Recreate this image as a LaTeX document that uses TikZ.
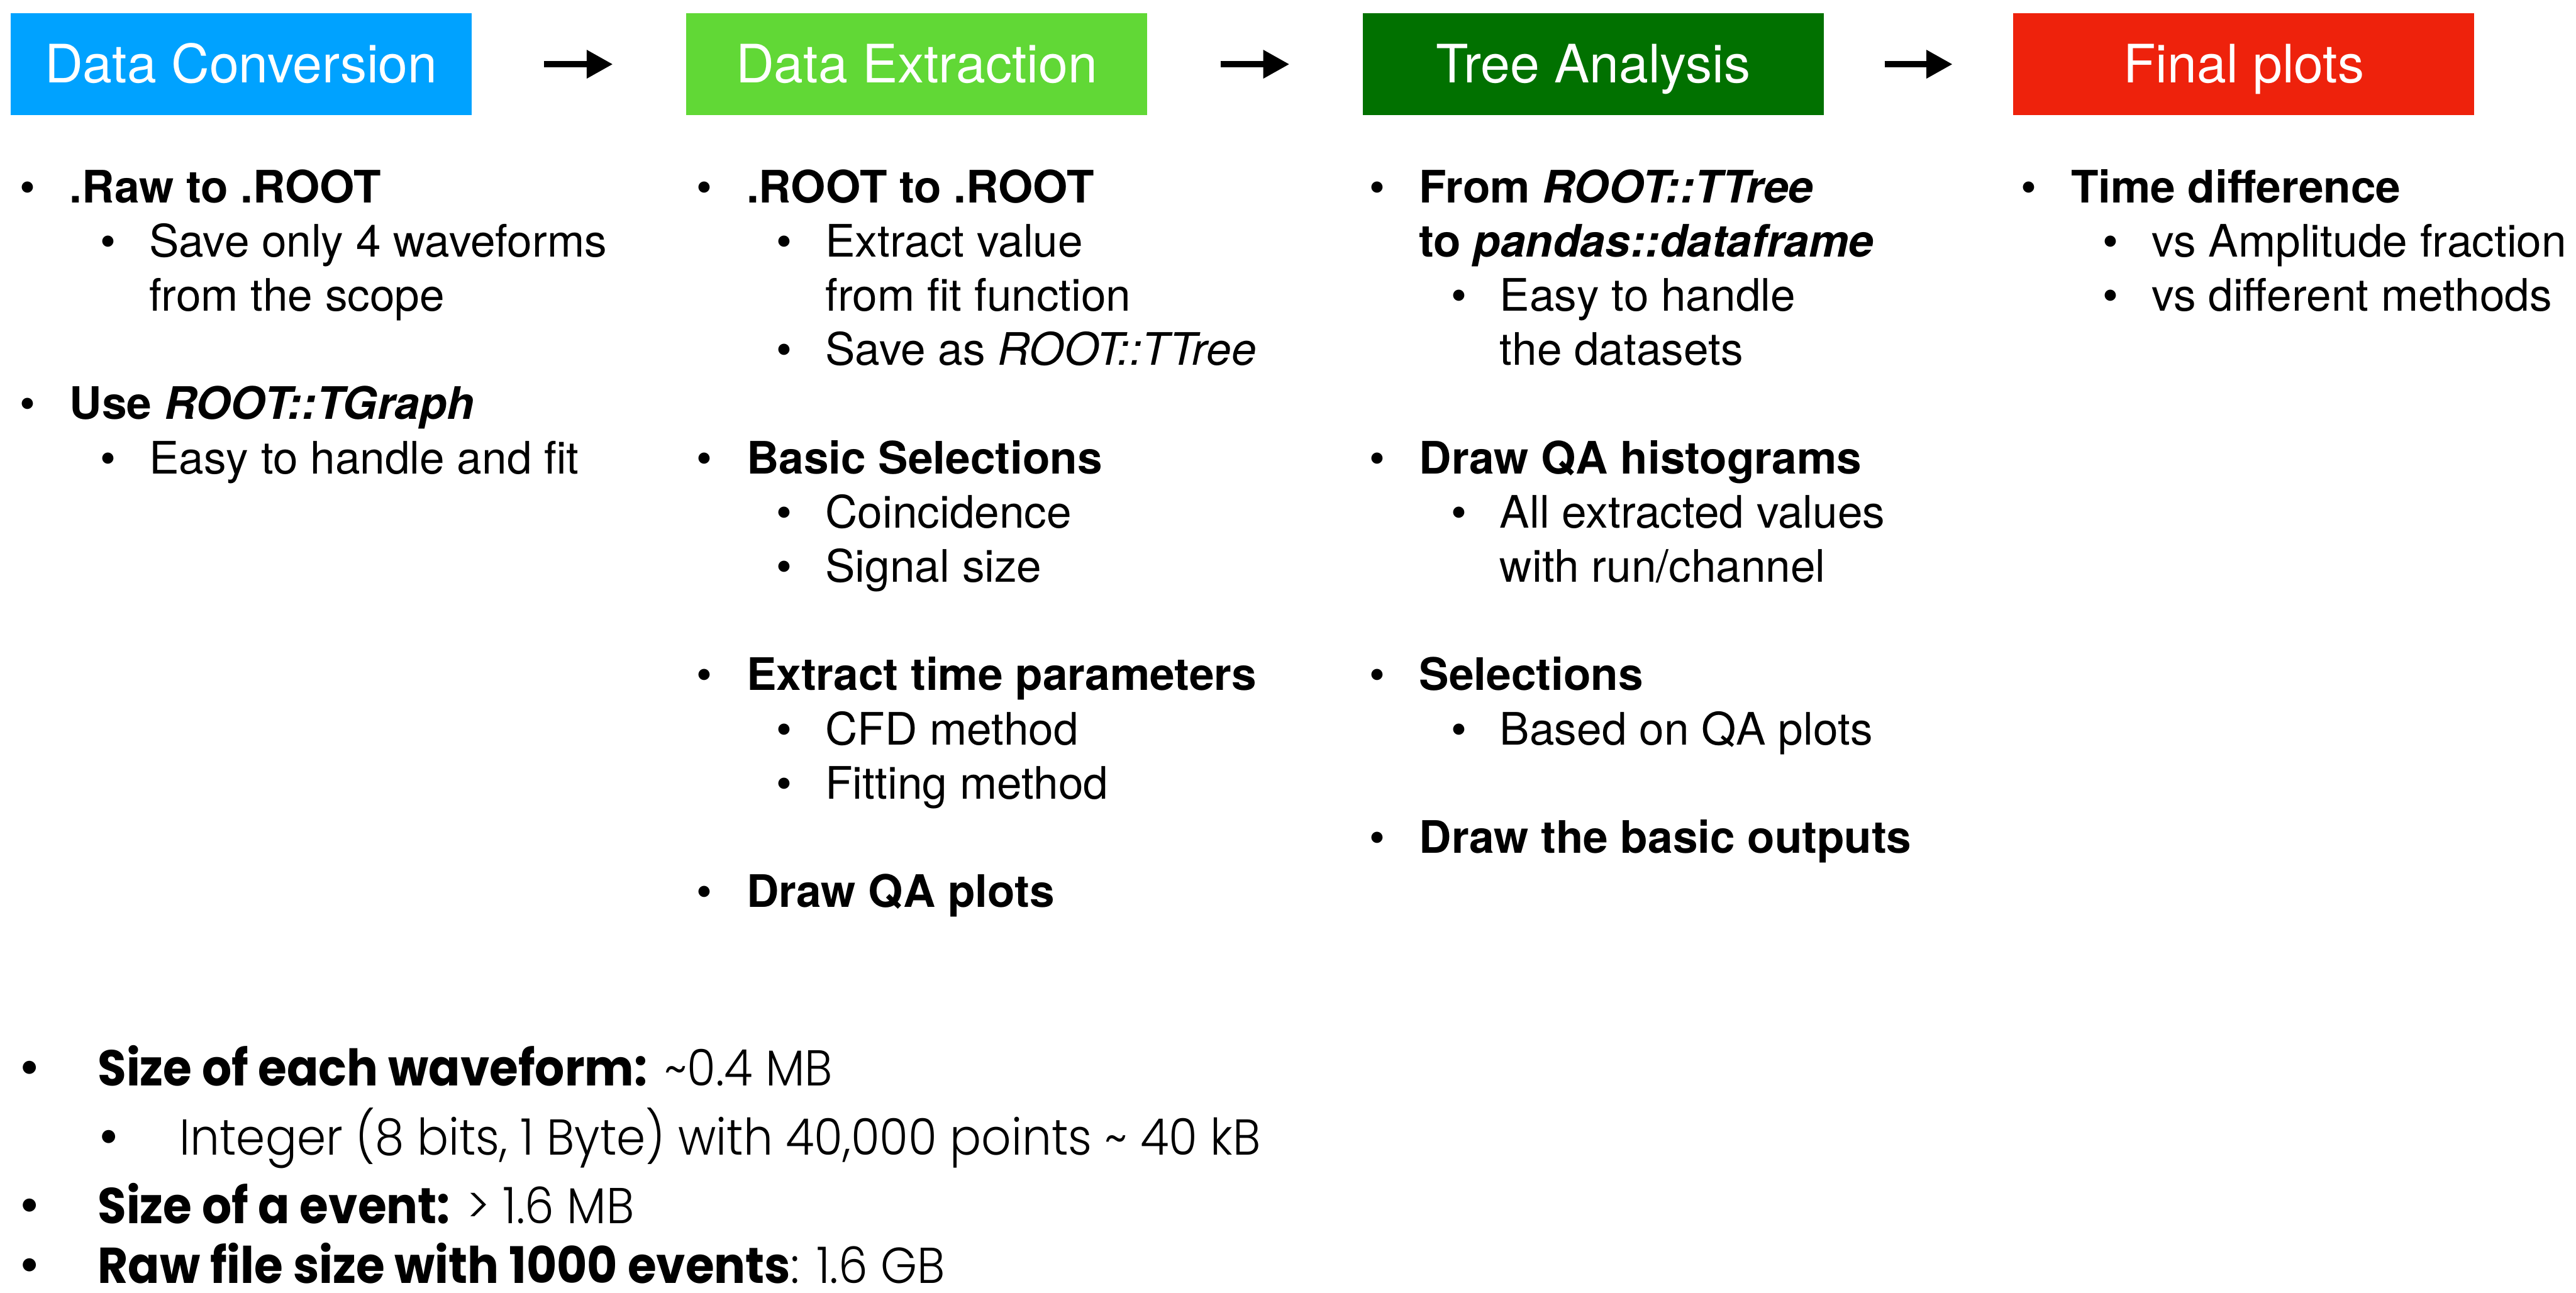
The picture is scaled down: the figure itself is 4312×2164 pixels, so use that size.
\documentclass[tikz,border=0pt]{standalone}
\usepackage{fontspec}
\setmainfont{TeX Gyre Heros}
\IfFontExistsTF{Poppins Light}
  {\newfontfamily\futfont{Poppins Light}[BoldFont={Poppins Bold}]}
  {\newfontfamily\futfont{Poppins}}
\usetikzlibrary{arrows.meta}
\definecolor{cblue}{RGB}{0,162,255}
\definecolor{cgreen}{RGB}{97,216,54}
\definecolor{cdgreen}{RGB}{1,113,0}
\definecolor{cred}{RGB}{238,34,12}
\tikzset{
  hdr/.style={fill=#1,text=white,minimum width=7.71cm,minimum height=1.71cm,inner sep=0pt,
    text height=0.62cm,text depth=0pt,font=\fontsize{25.2}{30}\selectfont},
  ln/.style={anchor=base west,inner sep=0pt,font=\fontsize{21.3}{25}\selectfont},
  bl/.style={anchor=base west,inner sep=0pt,font=\fontsize{21.3}{25}\selectfont\bfseries},
  bdot/.style={anchor=base,inner sep=0pt,font=\fontsize{21.3}{25}\selectfont},
  fb/.style={anchor=base west,inner sep=0pt,font=\futfont\fontsize{24}{28}\selectfont},
  fdot/.style={anchor=base,inner sep=0pt,font=\fontsize{25}{28}\selectfont},
  flow/.style={line width=0.11cm,-{Triangle[length=0.44cm,width=0.45cm]}}
}
\newcommand\fsq[1]{\scalebox{0.925}[1]{#1}}
% main bullet item: name, text x, line index, text
\newcommand\bitem[4]{\node[bl] (#1) at (#2,339+90.75*#3) {#4};
  \node[bdot] (#1d) at (#2-70,339+90.75*#3) {•};}
% sub bullet item
\newcommand\sitem[4]{\node[ln] (#1) at (#2,339+90.75*#3) {#4};
  \node[bdot] (#1d) at (#2-68,339+90.75*#3) {•};}
% continuation lines
\newcommand\citem[4]{\node[ln] (#1) at (#2,339+90.75*#3) {#4};}
\newcommand\cbitem[4]{\node[bl] (#1) at (#2,339+90.75*#3) {#4};}
\begin{document}
\begin{tikzpicture}[x=0.01cm,y=-0.01cm]
\useasboundingbox (0,0) rectangle (4312,2164);
% headers
\node[hdr=cblue]   (dc) at (403.5,107.5) {Data Conversion};
\node[hdr=cgreen]  (de) at (1534.5,107.5) {Data Extraction};
\node[hdr=cdgreen] (ta) at (2667,107.5) {Tree Analysis};
\node[hdr=cred]    (fp) at (3756,107.5) {Final plots};
% arrows
\draw[flow,shorten <=1.21cm,shorten >=1.22cm] (dc.east) -- (de.west);
\draw[flow,shorten <=1.22cm,shorten >=1.22cm] (de.east) -- (ta.west);
\draw[flow,shorten <=1.01cm,shorten >=1.01cm] (ta.east) -- (fp.west);
% column 1
\bitem{a0}{116}{0}{.Raw to .ROOT}
\sitem{a1}{249}{1}{Save only 4 waveforms}
\citem{a2}{249}{2}{from the scope}
\bitem{a4}{116}{4}{Use \textit{ROOT::TGraph}}
\sitem{a5}{249}{5}{Easy to handle and fit}
% column 2
\bitem{b0}{1249}{0}{.ROOT to .ROOT}
\sitem{b1}{1381}{1}{Extract value}
\citem{b2}{1381}{2}{from fit function}
\sitem{b3}{1381}{3}{Save as \textit{ROOT::TTree}}
\bitem{b5}{1249}{5}{Basic Selections}
\sitem{b6}{1381}{6}{Coincidence}
\sitem{b7}{1381}{7}{Signal size}
\bitem{b9}{1249}{9}{Extract time parameters}
\sitem{b10}{1381}{10}{CFD method}
\sitem{b11}{1381}{11}{Fitting method}
\bitem{b13}{1249}{13}{Draw QA plots}
% column 3
\bitem{c0}{2375}{0}{From \textit{ROOT::TTree}}
\cbitem{c1}{2375}{1}{to \textit{pandas::dataframe}}
\sitem{c2}{2510}{2}{Easy to handle}
\citem{c3}{2510}{3}{the datasets}
\bitem{c5}{2375}{5}{Draw QA histograms}
\sitem{c6}{2510}{6}{All extracted values}
\citem{c7}{2510}{7}{with run/channel}
\bitem{c9}{2375}{9}{Selections}
\sitem{c10}{2510}{10}{Based on QA plots}
\bitem{c12}{2375}{12}{Draw the basic outputs}
% column 4
\bitem{d0}{3466}{0}{Time difference}
\sitem{d1}{3601}{1}{vs Amplitude fraction}
\sitem{d2}{3601}{2}{vs different methods}
% bottom notes
\node[fb] (e1) at (163,1818) {\fsq{\textbf{Size of each waveform:} \textasciitilde0.4 MB}};
\node[fdot] (e1d) at (50,1818) {•};
\node[fb] (e2) at (300,1933) {\fsq{Integer (8 bits, 1 Byte) with 40,000 points \textasciitilde{} 40 kB}};
\node[fdot] (e2d) at (182,1933) {•};
\node[fb] (e3) at (163,2048) {\fsq{\textbf{Size of a event:} > 1.6 MB}};
\node[fdot] (e3d) at (50,2048) {•};
\node[fb] (e4) at (163,2148) {\fsq{\textbf{Raw file size with 1000 events}: 1.6 GB}};
\node[fdot] (e4d) at (50,2148) {•};
\end{tikzpicture}
\end{document}
